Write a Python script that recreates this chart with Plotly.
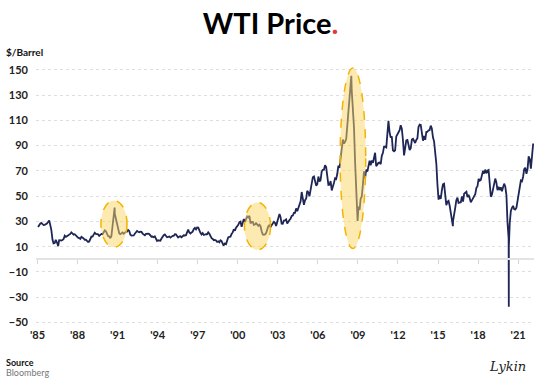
import pandas as pd
import plotly.graph_objects as go

# Monthly average WTI prices ($/bbl), Jan 1985 .. Feb 2022
prices_1985_1989 = [
    25.6, 27.3, 28.2, 28.8, 27.6, 27.1, 27.3, 27.8, 28.3, 29.5, 30.8, 27.2,
    22.93, 15.46, 12.61, 12.84, 15.38, 13.43, 11.59, 15.10, 14.87, 14.90, 15.22, 16.11,
    18.65, 17.75, 18.30, 18.68, 19.44, 20.07, 21.34, 20.31, 19.53, 19.86, 18.85, 17.28,
    17.13, 16.80, 16.20, 17.86, 17.42, 16.53, 15.50, 15.52, 14.54, 13.77, 14.14, 16.38,
    18.02, 17.94, 19.48, 21.07, 20.12, 20.05, 19.78, 18.58, 19.59, 20.10, 19.86, 21.10,
]
prices_1990_1999 = [
    22.86, 22.11, 20.39, 18.43, 18.20, 16.70, 18.45, 27.31, 33.51, 36.04, 32.33, 27.28,
    25.23, 20.48, 19.90, 20.83, 21.23, 20.19, 21.40, 21.69, 21.89, 23.23, 22.46, 19.50,
    18.79, 19.01, 18.92, 20.23, 20.98, 22.39, 21.78, 21.34, 21.88, 21.69, 20.34, 19.41,
    19.03, 20.09, 20.32, 20.25, 19.95, 19.09, 17.89, 18.01, 17.50, 18.15, 16.61, 14.52,
    15.03, 14.78, 14.68, 16.42, 17.89, 19.06, 19.66, 18.38, 17.45, 17.72, 18.07, 17.16,
    18.04, 18.57, 18.54, 19.90, 19.74, 18.45, 17.33, 18.02, 18.23, 17.43, 17.99, 19.03,
    18.86, 19.09, 21.33, 23.50, 21.17, 20.42, 21.30, 21.90, 23.97, 24.88, 23.71, 25.23,
    25.13, 22.18, 20.97, 19.70, 20.82, 19.26, 19.66, 19.95, 19.80, 21.33, 20.19, 18.33,
    16.72, 16.06, 15.12, 15.35, 14.91, 13.72, 14.17, 13.47, 15.03, 14.46, 13.00, 11.35,
    12.52, 12.01, 14.68, 17.31, 17.72, 17.92, 20.10, 21.28, 23.80, 22.69, 25.00, 26.10,
]
prices_2000_2009 = [
    27.26, 29.37, 29.84, 25.72, 28.79, 31.82, 29.70, 31.26, 33.88, 33.11, 34.42, 28.44,
    29.59, 29.61, 27.25, 27.49, 28.63, 27.60, 26.43, 27.37, 26.20, 22.17, 19.64, 19.39,
    19.72, 20.72, 24.53, 26.18, 27.04, 25.52, 26.97, 28.39, 29.66, 28.84, 26.35, 29.46,
    32.95, 35.83, 33.51, 28.17, 28.11, 30.66, 30.75, 31.57, 28.31, 30.34, 31.11, 32.13,
    34.31, 34.69, 36.74, 36.75, 40.28, 38.03, 40.78, 44.90, 45.94, 53.28, 48.47, 43.15,
    46.84, 48.15, 54.19, 52.98, 49.83, 56.35, 59.00, 64.99, 65.59, 62.26, 58.32, 59.41,
    65.49, 61.63, 62.69, 69.44, 70.84, 70.95, 74.41, 73.04, 63.80, 58.89, 59.08, 61.96,
    54.51, 59.28, 60.44, 63.98, 63.46, 67.49, 74.12, 72.36, 79.92, 85.80, 94.77, 91.69,
    92.97, 95.39, 105.45, 112.58, 125.40, 133.88, 133.37, 116.67, 104.11, 76.61, 57.31, 41.12,
    41.71, 39.09, 47.94, 49.65, 59.03, 69.64, 64.15, 71.05, 69.41, 75.72, 77.99, 74.47,
]
prices_2010_2022 = [
    78.33, 76.39, 81.20, 84.29, 73.74, 75.34, 76.32, 76.60, 75.24, 81.89, 84.25, 89.15,
    89.17, 88.58, 102.86, 109.53, 100.90, 96.26, 97.30, 86.33, 85.52, 86.32, 97.16, 98.56,
    100.27, 102.20, 106.16, 103.32, 94.66, 82.30, 87.90, 94.13, 94.51, 89.49, 86.53, 87.86,
    94.76, 95.31, 92.94, 92.02, 94.51, 95.77, 104.67, 106.57, 106.29, 100.54, 93.86, 97.63,
    94.62, 100.82, 100.80, 102.07, 102.18, 105.79, 103.59, 96.54, 93.21, 84.40, 75.79, 59.29,
    47.22, 50.58, 47.82, 54.45, 59.27, 59.82, 50.90, 42.87, 45.48, 46.22, 42.44, 37.19,
    31.68, 30.32, 37.55, 40.75, 46.71, 48.76, 44.65, 44.72, 45.18, 49.78, 45.66, 51.97,
    52.50, 53.47, 49.33, 51.06, 48.48, 45.18, 46.63, 48.04, 49.82, 51.58, 56.64, 57.88,
    63.70, 62.23, 62.73, 66.25, 69.98, 67.87, 70.98, 68.06, 70.23, 70.75, 56.96, 49.52,
    51.38, 54.95, 58.15, 63.86, 60.83, 54.66, 57.35, 54.81, 56.95, 53.96, 57.03, 59.88,
    57.52, 50.54, 29.21, 16.55, 28.56, 38.31, 40.71, 42.34, 39.63, 39.40, 40.94, 47.02,
    52.00, 59.04, 62.33, 61.72, 65.17, 71.38, 72.49, 67.73, 71.65, 81.48, 79.15, 71.71,
    83.22, 91.64,
]

# Daily extremes visible in the chart
extreme_dates = ["1986-07-20", "1990-10-11", "1998-12-10", "2008-07-03",
                 "2008-12-22", "2016-02-11", "2020-04-20", "2020-04-21"]
extreme_values = [10.4, 41.0, 10.8, 145.3, 30.3, 26.2, -37.6, 10.0]

# Highlighted episodes: (start, end, low, high)
highlight_x0 = ["1989-10-01", "2000-07-01", "2007-09-01"]
highlight_x1 = ["1991-09-15", "2002-06-15", "2009-08-01"]
highlight_y0 = [9.5, 7.5, 8.5]
highlight_y1 = [46.5, 45.0, 151.5]

x_tick_vals = [f"{y}-01-01" for y in range(1985, 2022, 3)]
x_tick_text = [f"'{str(y)[2:]}" for y in range(1985, 2022, 3)]
y_tick_vals = list(range(-50, 151, 20))

monthly = prices_1985_1989 + prices_1990_1999 + prices_2000_2009 + prices_2010_2022
month_dates = pd.date_range("1985-01-01", periods=len(monthly), freq="MS") + pd.Timedelta(days=14)
s = pd.concat([
    pd.Series(monthly, index=month_dates),
    pd.Series(extreme_values, index=pd.to_datetime(extreme_dates)),
]).sort_index()

NAVY = "#1e2656"
FONT = "Lato"
PW, PH, PB = 498, 259, 325  # plot width, height, bottom pixel

fig = go.Figure()
fig.add_trace(go.Scatter(x=s.index, y=s.values, mode="lines",
                         line=dict(color=NAVY, width=1.8), hoverinfo="skip"))
# helper trace for the zero-line axis
fig.add_trace(go.Scatter(x=[s.index[0]], y=[None], xaxis="x2", mode="lines", showlegend=False))

x_range = ["1984-11-20", "2022-03-10"]
y_range = [-52, 153]

fig.update_layout(
    width=550, height=385,
    margin=dict(l=36, r=16, t=66, b=60, autoexpand=False),
    paper_bgcolor="white", plot_bgcolor="white",
    showlegend=False,
    font=dict(family=FONT, color="#111"),
    title=dict(text="<b>WTI Price</b><b><span style='color:#e0393e'>.</span></b>",
               x=0.492, xanchor="center", y=1 - 24 / 385, yanchor="middle",
               automargin=False,
               font=dict(size=29, family=FONT, color="#000", weight=900)),
    xaxis=dict(type="date", range=x_range, tickvals=x_tick_vals, ticktext=x_tick_text,
               showgrid=False, zeroline=False, showline=False, ticks="", automargin=False,
               tickfont=dict(size=11, color="#222", family=FONT, weight="bold"),
               ticklabelstandoff=2),
    xaxis2=dict(type="date", range=x_range, overlaying="x", anchor="free", automargin=False,
                position=(0 - y_range[0]) / (y_range[1] - y_range[0]),
                tickvals=x_tick_vals, showticklabels=False, showgrid=False, zeroline=False,
                showline=True, linecolor="#e3e3e3", linewidth=1.5,
                ticks="outside", ticklen=4, tickcolor="#d6d6d6", tickwidth=1),
    yaxis=dict(range=y_range, tickvals=y_tick_vals, showgrid=True, automargin=False,
               gridcolor="#dedede", griddash="dot", gridwidth=1,
               zeroline=False, showline=False, ticks="",
               tickfont=dict(size=11, color="#222", family=FONT, weight="bold"),
               ticklabelstandoff=7),
)

for x0, x1, y0, y1 in zip(highlight_x0, highlight_x1, highlight_y0, highlight_y1):
    fig.add_shape(type="circle", xref="x", yref="y", x0=x0, x1=x1, y0=y0, y1=y1,
                  fillcolor="rgba(252,214,100,0.5)",
                  line=dict(color="#f4b400", width=1.5, dash="dash"), layer="above")

def note(text, px, py, size, color, family=FONT, anchor="left"):
    fig.add_annotation(text=text, xref="paper", yref="paper",
                       x=(px - 36) / PW, y=(PB - py) / PH, xanchor=anchor, yanchor="middle",
                       showarrow=False, font=dict(size=size, color=color, family=family))

note("<b>$/Barrel</b>", 4, 52, 10, "#111")
note("<b>Source</b>", 4, 362, 9, "#111")
note("Bloomberg", 4, 372, 9, "#777")
note("<i>Lykin</i>", 507, 366, 13, "#222", family="DejaVu Serif", anchor="center")

fig.write_html("out.html", config={"displayModeBar": False},
               post_script="document.body.style.margin='0';")
